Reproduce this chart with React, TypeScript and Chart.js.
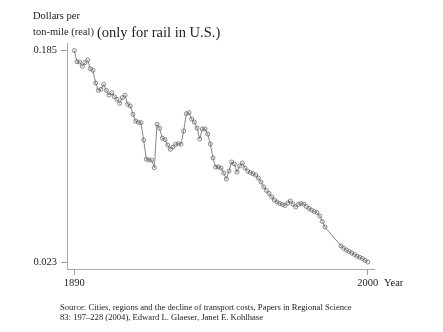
import React, { useEffect, useRef } from "react";
import { Chart, registerables } from "chart.js";

Chart.register(...registerables);

const years: number[] = [];
for (let y = 1890; y <= 2000; y++) years.push(y);

const costs1890s = [0.185, 0.1764, 0.1762, 0.1729, 0.1757, 0.1777, 0.1711, 0.1698, 0.1601, 0.1545];
const costs1900s = [0.1553, 0.1591, 0.1545, 0.1509, 0.1527, 0.1496, 0.1476, 0.1446, 0.1489, 0.1507];
const costs1910s = [0.1438, 0.1425, 0.1361, 0.131, 0.13, 0.1297, 0.1165, 0.1017, 0.1011, 0.1011];
const costs1920s = [0.0952, 0.1285, 0.1254, 0.1178, 0.1167, 0.1126, 0.1093, 0.1111, 0.1132, 0.1136];
const costs1930s = [0.1132, 0.1233, 0.1366, 0.1374, 0.1325, 0.1302, 0.1256, 0.1172, 0.1249, 0.1249];
const costs1940s = [0.121, 0.1134, 0.1027, 0.0958, 0.0958, 0.095, 0.0912, 0.0866, 0.0927, 0.0996];
const costs1950s = [0.0981, 0.0919, 0.0965, 0.0988, 0.095, 0.0927, 0.0916, 0.0906, 0.0896, 0.0873];
const costs1960s = [0.0843, 0.0805, 0.0778, 0.0755, 0.0728, 0.0705, 0.069, 0.0678, 0.0671, 0.0663];
const costs1970s = [0.0682, 0.0697, 0.0674, 0.0651, 0.0671, 0.0678, 0.0674, 0.0655, 0.064, 0.0628];
const costs1980s = [0.0617, 0.0609, 0.0582, 0.054, 0.0498, null, null, null, null, null];
const costs1990s = [0.0353, 0.0335, 0.0322, 0.031, 0.0299, 0.0288, 0.0274, 0.0266, 0.0257, 0.0243, 0.023];

const costs: (number | null)[] = [
  ...costs1890s, ...costs1900s, ...costs1910s, ...costs1920s, ...costs1930s,
  ...costs1940s, ...costs1950s, ...costs1960s, ...costs1970s, ...costs1980s, ...costs1990s,
];

const xTicks = [1890, 2000];
const yTicks = [0.023, 0.185];

const SERIF = '"Liberation Serif", "DejaVu Serif", serif';

export default function App() {
  const ref = useRef<HTMLCanvasElement | null>(null);

  useEffect(() => {
    document.body.style.margin = "0";
    const ctx = ref.current!.getContext("2d")!;
    const chart = new Chart(ctx, {
      type: "line",
      data: {
        datasets: [
          {
            data: years.map((y, i) => ({ x: y, y: costs[i] })) as any,
            borderColor: "#7a7a7a",
            borderWidth: 0.9,
            pointRadius: 2,
            pointBorderWidth: 0.8,
            pointBorderColor: "#6a6a6a",
            pointBackgroundColor: "rgba(255,255,255,0)",
            spanGaps: true,
            tension: 0,
          },
        ],
      },
      options: {
        animation: false,
        responsive: false,
        devicePixelRatio: 1,
        layout: { padding: { left: 0, top: 43, right: 69, bottom: 0 } },
        plugins: { legend: { display: false }, tooltip: { enabled: false } },
        scales: {
          x: {
            type: "linear",
            min: 1887.263,
            max: 2002.362,
            afterBuildTicks: (s: any) => {
              s.ticks = xTicks.map((v) => ({ value: v }));
            },
            afterFit: (s: any) => {
              s.height = 63;
            },
            grid: { drawOnChartArea: false, drawTicks: true, tickLength: 6, color: "#9a9a9a" },
            border: { display: true, color: "#a8a8a8", width: 1 },
            ticks: {
              color: "#222",
              font: { family: SERIF, size: 10.5 },
              padding: 2,
              maxRotation: 0,
              callback: (v: any) => String(v),
            },
          },
          y: {
            type: "linear",
            min: 0.01764,
            max: 0.19074,
            afterBuildTicks: (s: any) => {
              s.ticks = yTicks.map((v) => ({ value: v }));
            },
            afterFit: (s: any) => {
              s.width = 67;
            },
            grid: { drawOnChartArea: false, drawTicks: true, tickLength: 6, color: "#9a9a9a" },
            border: { display: true, color: "#a8a8a8", width: 1 },
            ticks: {
              color: "#222",
              font: { family: SERIF, size: 10.5 },
              padding: 4,
              callback: (v: any) => Number(v).toFixed(3),
            },
          },
        },
      },
    });
    return () => chart.destroy();
  }, []);

  const txt = (style: React.CSSProperties): React.CSSProperties => ({
    position: "absolute",
    fontFamily: SERIF,
    color: "#222",
    whiteSpace: "nowrap",
    ...style,
  });

  return (
    <div style={{ position: "relative", width: 443, height: 332, background: "#fff", overflow: "hidden" }}>
      <canvas ref={ref} width={443} height={332} style={{ position: "absolute", left: 0, top: 0 }} />
      <div style={txt({ left: 33, top: 10, fontSize: 10.5, lineHeight: "12px" })}>Dollars per</div>
      <div style={txt({ left: 33, top: 26, fontSize: 10.5, lineHeight: "12px" })}>ton-mile (real)</div>
      <div style={txt({ left: 97, top: 24, fontSize: 14.5, lineHeight: "16px" })}>(only for rail in U.S.)</div>
      <div style={txt({ left: 384, top: 277, fontSize: 10.5, lineHeight: "12px" })}>Year</div>
      <div style={txt({ left: 60, top: 302, fontSize: 8.6, lineHeight: "10px" })}>
        Source: Cities, regions and the decline of transport costs, Papers in Regional Science
      </div>
      <div style={txt({ left: 60, top: 312, fontSize: 8.6, lineHeight: "10px" })}>
        83: 197–228 (2004), Edward L. Glaeser, Janet E. Kohlhase
      </div>
    </div>
  );
}
